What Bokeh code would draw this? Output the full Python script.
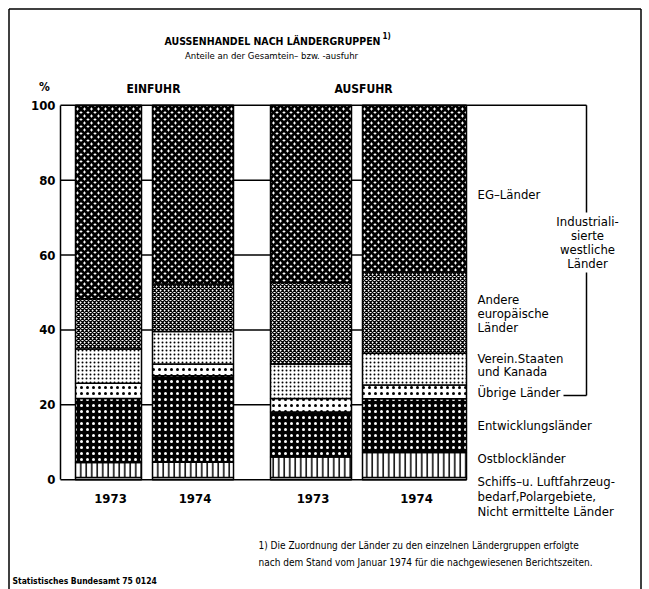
from bokeh.plotting import figure
from bokeh.models import Range1d, FixedTicker, Label, ColumnDataSource, LinearAxis
from bokeh.embed import file_html
from bokeh.resources import INLINE

# ---------------- data ----------------
groups = ["EINFUHR", "EINFUHR", "AUSFUHR", "AUSFUHR"]
years = ["1973", "1974", "1973", "1974"]
schiffs = [0.6, 0.6, 0.6, 0.6]          # Schiffs- u. Luftfahrzeugbedarf, Polargebiete, Nicht ermittelte Länder
ostblock = [4.0, 4.1, 5.5, 6.7]         # Ostblockländer
entwicklung = [17.1, 23.1, 12.0, 14.3]  # Entwicklungsländer
uebrige = [4.1, 3.1, 3.6, 3.7]          # Übrige Länder
usa_kanada = [9.1, 8.7, 9.2, 8.5]       # Verein. Staaten und Kanada
andere_europa = [13.4, 12.7, 21.8, 21.7]  # Andere europäische Länder
eg = [51.7, 47.7, 47.3, 44.5]           # EG-Länder
y_ticks = [0, 20, 40, 60, 80, 100]

# ---------------- layout ----------------
bar_x = [108, 192.5, 310.5, 414]
bar_w = [66, 81, 81, 104]
W, H = 649, 589
FONT = "DejaVu Sans Condensed, Roboto, sans-serif"

def yd(py):
    # page pixel row -> data value (0 at 479.25px, 3.745 px per percent)
    return (479.25 - py) / 3.745

p = figure(width=W, height=H, x_range=Range1d(0, W), y_range=Range1d(yd(H), yd(0)),
           output_backend="svg", toolbar_location=None, title=None,
           x_axis_location=None, y_axis_location=None,
           min_border=0, min_border_left=0, min_border_right=0, min_border_top=0, min_border_bottom=0)
p.outline_line_color = None
for g in p.grid:
    g.visible = False
p.background_fill_color = "white"
p.border_fill_color = "white"

ax = LinearAxis(fixed_location=60, ticker=FixedTicker(ticks=y_ticks), bounds=(0, 100))
ax.axis_line_width = 1.5
ax.axis_line_color = "black"
ax.major_tick_in = 0
ax.major_tick_out = 0
ax.minor_tick_in = 0
ax.minor_tick_out = 0
ax.major_label_standoff = 5
ax.major_label_text_font = FONT
ax.major_label_text_font_style = "bold"
ax.major_label_text_font_size = "13px"
ax.major_label_text_color = "black"
p.add_layout(ax, "left")

# frame around the whole sheet
p.segment(x0=[8.5, 8.5, 640.5], x1=[640.5, 8.5, 640.5],
          y0=[yd(8.5), yd(8.5), yd(8.5)], y1=[yd(8.5), yd(H + 5), yd(H + 5)],
          line_color="black", line_width=1.5)

# gridlines through the gaps
right_edge = bar_x[-1] + bar_w[-1] / 2
p.segment(x0=[60] * len(y_ticks), x1=[right_edge] * len(y_ticks), y0=y_ticks, y1=y_ticks,
          line_color="black", line_width=1.5)

stackers = ["schiffs", "ostblock", "entwicklung", "uebrige", "usa_kanada", "andere_europa", "eg"]
src = ColumnDataSource(dict(x=bar_x, w=bar_w, schiffs=schiffs, ostblock=ostblock,
                            entwicklung=entwicklung, uebrige=uebrige, usa_kanada=usa_kanada,
                            andere_europa=andere_europa, eg=eg))
p.vbar_stack(stackers, x="x", width="w", source=src,
             fill_color=["white", "white", "black", "white", "white", "white", "white"],
             hatch_pattern=[" ", "vertical_line", "dot", "dot", "dot", "diagonal_cross", "diagonal_cross"],
             hatch_color=["black", "black", "white", "black", "black", "black", "black"],
             hatch_scale=[6, 5.5, 6, 6, 4, 4, 7],
             hatch_weight=[1, 1.5, 2, 2, 1.5, 1.3, 3],
             line_color="black", line_width=1.5)

# bracket "Industrialisierte westliche Länder"
bx = 586
p.segment(x0=[right_edge, bx, bx, 563], x1=[bx, bx, bx, bx],
          y0=[100, 100, yd(272), yd(395)], y1=[100, yd(212), yd(395), yd(395)],
          line_color="black", line_width=1.5)


def lab(text, px, py, size="13px", align="left", style="normal"):
    p.add_layout(Label(x=px, y=yd(py), text=text, text_font=FONT, text_font_size=size,
                       text_font_style=style, text_align=align, text_baseline="middle",
                       text_color="black"))

# titles
lab("AUSSENHANDEL NACH LÄNDERGRUPPEN", 380, 40, size="10.5px", align="right", style="bold")
lab("1)", 382, 36, size="8px", align="left", style="bold")
lab("Anteile an der Gesamtein– bzw. -ausfuhr", 271, 55, size="9.5px", align="center")
lab("%", 44, 86, size="12px", align="center", style="bold")

# group headers
lab(groups[0], 153, 88, size="12px", align="center", style="bold")
lab(groups[2], 363, 88, size="12px", align="center", style="bold")

# years
for bx_, yr in zip(bar_x, years):
    lab(yr, bx_ + 2, 498, size="13px", align="center", style="bold")

# legend texts
LX = 477
lab("EG–Länder", LX, 194)
lab("Andere", LX, 299)
lab("europäische", LX, 313)
lab("Länder", LX, 327)
lab("Verein.Staaten", LX, 358)
lab("und Kanada", LX, 371)
lab("Übrige Länder", LX, 392)
lab("Entwicklungsländer", LX, 425)
lab("Ostblockländer", LX, 458)
lab("Schiffs–u. Luftfahrzeug-", LX, 481)
lab("bedarf,Polargebiete,", LX, 496)
lab("Nicht ermittelte Länder", LX, 511)

for t, py in [("Industriali-", 221), ("sierte", 235), ("westliche", 249), ("Länder", 263)]:
    lab(t, 587, py, align="center")

# footnotes
lab("1) Die Zuordnung der Länder zu den einzelnen Ländergruppen erfolgte", 258, 545, size="10px")
lab("nach dem Stand vom Januar 1974 für die nachgewiesenen Berichtszeiten.", 258, 562, size="10px")
lab("Statistisches Bundesamt 75 0124", 12, 580, size="8.5px", style="bold")

open("out.html", "w").write(file_html(p, INLINE))
